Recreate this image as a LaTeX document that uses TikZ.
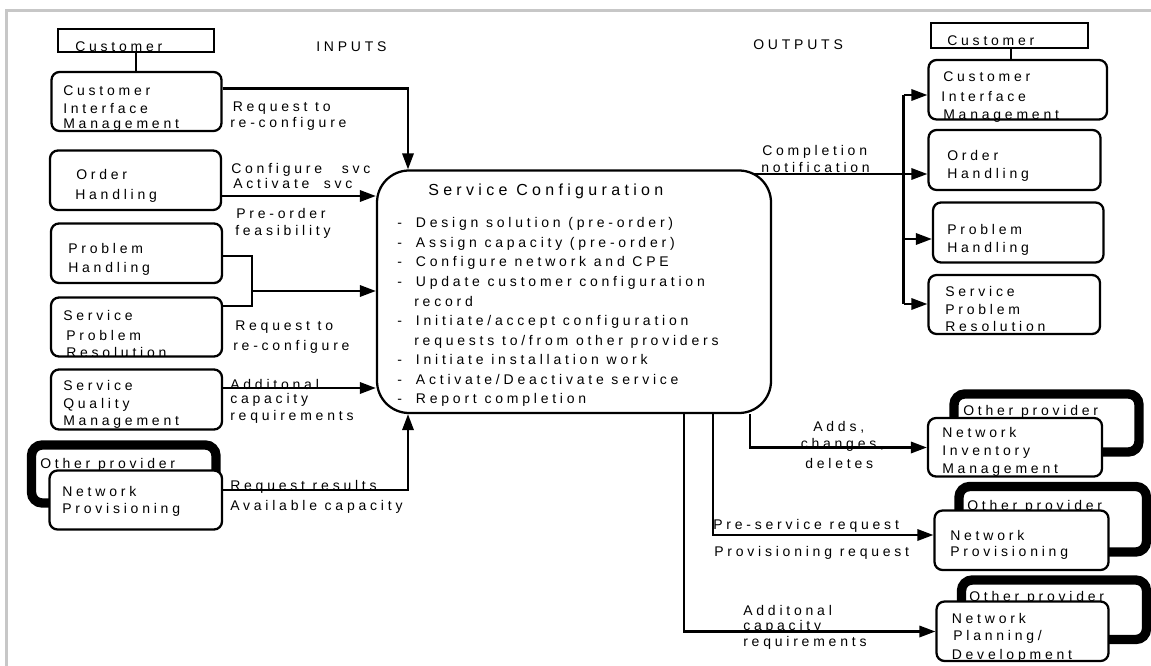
\documentclass[tikz,border=0pt]{standalone}
\usepackage{fontspec}
\setmainfont{Liberation Sans}
\newfontfamily\spaced[LetterSpace=27]{Liberation Sans}
\usetikzlibrary{arrows.meta,fit}

\begin{document}
\begin{tikzpicture}[x=0.75pt,y=-0.75pt,
  box/.style={draw, line width=1.7pt, rounded corners=6pt, fill=white, inner sep=0pt},
  plainbox/.style={draw, line width=1.7pt, fill=white, inner sep=0pt},
  provider/.style={draw, line width=7pt, rounded corners=8pt, inner sep=0pt},
  lbl/.style={anchor=base west, inner sep=0pt, font=\spaced\fontsize{10.5}{12}\selectfont},
  head/.style={anchor=base west, inner sep=0pt, font=\spaced\fontsize{12}{14}\selectfont},
  flow/.style={line width=1.7pt, -{Triangle[length=12pt,width=8.5pt]}},
  link/.style={line width=1.7pt},
]
\useasboundingbox (0,0) rectangle (1151,666);
% page frame
\draw[black!22, line width=2.2pt] (6.5,666) -- (6.5,10.5) -- (1151,10.5);

% ---------------- inputs ----------------
\node[lbl] (inputs) at (316,52) {INPUTS};
\node[plainbox, fit={(58,29) (214,52)}] (lcust) {};
\node[lbl] (lcust-t) at (75,51.5) {Customer};
\node[box, fit={(51.5,72) (221.5,131)}] (lcim) {};
\node[lbl] (lcim-1) at (63,96) {Customer};
\node[lbl] (lcim-2) at (63,114) {Interface};
\node[lbl] (lcim-3) at (63,129) {Management};
\draw[link] (lcust.south) -- (lcust.south |- lcim.north);

\node[box, fit={(50,150.5) (221,210)}] (loh) {};
\node[lbl] (loh-1) at (76,180) {Order};
\node[lbl] (loh-2) at (75,200) {Handling};

\node[box, fit={(51,223.5) (222,283)}] (lph) {};
\node[lbl] (lph-1) at (68,254) {Problem};
\node[lbl] (lph-2) at (68,272.5) {Handling};

\node[box, fit={(51,297.5) (222,356.5)}] (lspr) {};
\node[lbl] (lspr-1) at (63,320.5) {Service};
\node[lbl] (lspr-2) at (66,340.5) {Problem};
\node[lbl] (lspr-3) at (66,357) {Resolution};

\node[box, fit={(51,369.5) (222,429.5)}] (lsqm) {};
\node[lbl] (lsqm-1) at (63,390.5) {Service};
\node[lbl] (lsqm-2) at (63,408) {Quality};
\node[lbl] (lsqm-3) at (63,425) {Management};

\node[provider, fit={(31.5,445) (216,503)}] (lother) {};
\node[lbl] (lother-t) at (40,468) {Other provider};
\node[box, fit={(49.5,470.5) (222,529.5)}] (lnp) {};
\node[lbl] (lnp-1) at (62,496) {Network};
\node[lbl] (lnp-2) at (62,513) {Provisioning};

% ---------------- central process ----------------
\node[box, rounded corners=24pt, fit={(377,170.5) (771,413)}] (sc) {};
\node[head] (sc-head) at (428,196) {Service Configuration};
\node[lbl] (sc-1) at (397,228) {\makebox[14pt][l]{-}Design solution (pre-order)};
\node[lbl] (sc-2) at (397,247.5) {\makebox[14pt][l]{-}Assign capacity (pre-order)};
\node[lbl] (sc-3) at (397,267) {\makebox[14pt][l]{-}Configure network and CPE};
\node[lbl] (sc-4) at (397,286.5) {\makebox[14pt][l]{-}Update customer configuration};
\node[lbl] (sc-5) at (414,306) {record};
\node[lbl] (sc-6) at (397,325.5) {\makebox[14pt][l]{-}Initiate/accept configuration};
\node[lbl] (sc-7) at (414,345) {requests to/from other providers};
\node[lbl] (sc-8) at (397,364.5) {\makebox[14pt][l]{-}Initiate installation work};
\node[lbl] (sc-9) at (397,384) {\makebox[14pt][l]{-}Activate/Deactivate service};
\node[lbl] (sc-10) at (397,403.5) {\makebox[14pt][l]{-}Report completion};

% ---------------- input flows ----------------
\coordinate (cimturn) at (408,88.5);
\draw[flow] (lcim.east |- cimturn) -- (cimturn) -- (cimturn |- sc.north);
\node[lbl] (in1a) at (232.5,111.5) {Request to};
\node[lbl] (in1b) at (230,128) {re-configure};

\draw[flow] (loh.east |- 0,196) -- (sc.west |- 0,196);
\node[lbl] (in2a) at (231,174) {Configure\hspace{9pt} svc};
\node[lbl] (in2b) at (233,189) {Activate\hspace{5pt} svc};
\node[lbl] (in2c) at (236,219) {Pre-order};
\node[lbl] (in2d) at (235,236) {feasibility};

\coordinate (brk) at (252,291);
\draw[link] (lph.east |- 0,256) -| (brk) |- (lspr.east |- 0,306);
\draw[flow] (brk) -- (sc.west |- brk);
\node[lbl] (in3a) at (235,330) {Request to};
\node[lbl] (in3b) at (233,350) {re-configure};

\draw[flow] (lsqm.east |- 0,388) -- (sc.west |- 0,388);
\node[lbl] (in4a) at (230,389) {Additonal};
\node[lbl] (in4b) at (230,403.5) {capacity};
\node[lbl] (in4c) at (230,420) {requirements};

\coordinate (npturn) at (408,490);
\draw[flow] (lnp.east |- npturn) -- (npturn) -- (npturn |- sc.south);
\node[lbl] (in5a) at (230,490) {Request results};
\node[lbl] (in5b) at (230,510) {Available capacity};

% ---------------- outputs ----------------
\node[lbl] (outputs) at (753,50) {OUTPUTS};
\node[plainbox, fit={(931,23) (1088,48)}] (rcust) {};
\node[lbl] (rcust-t) at (947,46) {Customer};
\node[box, fit={(928.5,60) (1107,119.5)}] (rcim) {};
\draw[link] (rcust.south -| 1011,0) -- (rcim.north -| 1011,0);
\node[lbl] (rcim-1) at (943,82) {Customer};
\node[lbl] (rcim-2) at (941,101.5) {Interface};
\node[lbl] (rcim-3) at (943,120) {Management};

\node[box, fit={(928.5,130) (1100.5,190)}] (roh) {};
\node[lbl] (roh-1) at (947,160.5) {Order};
\node[lbl] (roh-2) at (947,179) {Handling};

\node[box, fit={(933,202.5) (1103.5,262.5)}] (rph) {};
\node[lbl] (rph-1) at (947,235) {Problem};
\node[lbl] (rph-2) at (947,252.5) {Handling};

\node[box, fit={(928.5,275) (1100,334)}] (rspr) {};
\node[lbl] (rspr-1) at (945,296.5) {Service};
\node[lbl] (rspr-2) at (945,314) {Problem};
\node[lbl] (rspr-3) at (945,331.5) {Resolution};

% completion notification bus
\coordinate (cstart) at (753,174);
\coordinate (bustop) at (903.5,95);
\coordinate (busbot) at (903.5,304);
\draw[flow] (cstart) -- (roh.west |- cstart);
\draw[link] (bustop) -- (busbot);
\draw[flow] (bustop) -- (rcim.west |- bustop);
\draw[flow] (bustop |- 0,239) -- (rph.west |- 0,239);
\draw[flow] (busbot) -- (rspr.west |- busbot);
\node[lbl] (out1a) at (762,155.5) {Completion};
\node[lbl] (out1b) at (761,172.5) {notification};

% other-provider systems
\node[provider, fit={(954,394) (1139,452)}] (nimother) {};
\node[lbl] (nimother-t) at (963,415) {Other provider};
\node[box, fit={(928,418) (1102,476.5)}] (rnim) {};
\node[lbl] (rnim-1) at (942,437) {Network};
\node[lbl] (rnim-2) at (942,455.5) {Inventory};
\node[lbl] (rnim-3) at (942,473) {Management};

\node[provider, fit={(959,486.5) (1146.5,552)}] (npother) {};
\node[lbl] (npother-t) at (967,510) {Other provider};
\node[box, fit={(934.5,510.5) (1108.5,570)}] (rnp) {};
\node[lbl] (rnp-1) at (950,540) {Network};
\node[lbl] (rnp-2) at (950,556) {Provisioning};

\node[provider, fit={(961.5,580) (1146.5,639.5)}] (npdother) {};
\node[lbl] (npdother-t) at (969,601.5) {Other provider};
\node[box, fit={(936.5,601.5) (1108.5,661)}] (rnpd) {};
\node[lbl] (rnpd-1) at (951.5,623) {Network};
\node[lbl] (rnpd-2) at (953,640.5) {Planning/};
\node[lbl] (rnpd-3) at (951.5,659) {Development};

% ---------------- output flows ----------------
\coordinate (d1) at (750,447.5);
\draw[flow] (d1 |- sc.south) -- (d1) -- (rnim.west |- d1);
\node[lbl] (out2a) at (813,431.5) {Adds,};
\node[lbl] (out2b) at (800.5,448) {changes,};
\node[lbl] (out2c) at (805,468) {deletes};

\coordinate (d2) at (713,535);
\draw[flow] (d2 |- sc.south) -- (d2) -- (rnp.west |- d2);
\node[lbl] (out3a) at (713,529.5) {Pre-service request};
\node[lbl] (out3b) at (714,556) {Provisioning request};

\coordinate (d3) at (684,631.5);
\draw[flow] (d3 |- sc.south) -- (d3) -- (rnpd.west |- d3);
\node[lbl] (out4a) at (743,615) {Additonal};
\node[lbl] (out4b) at (743,630.5) {capacity};
\node[lbl] (out4c) at (743,646.5) {requirements};
\end{tikzpicture}
\end{document}
